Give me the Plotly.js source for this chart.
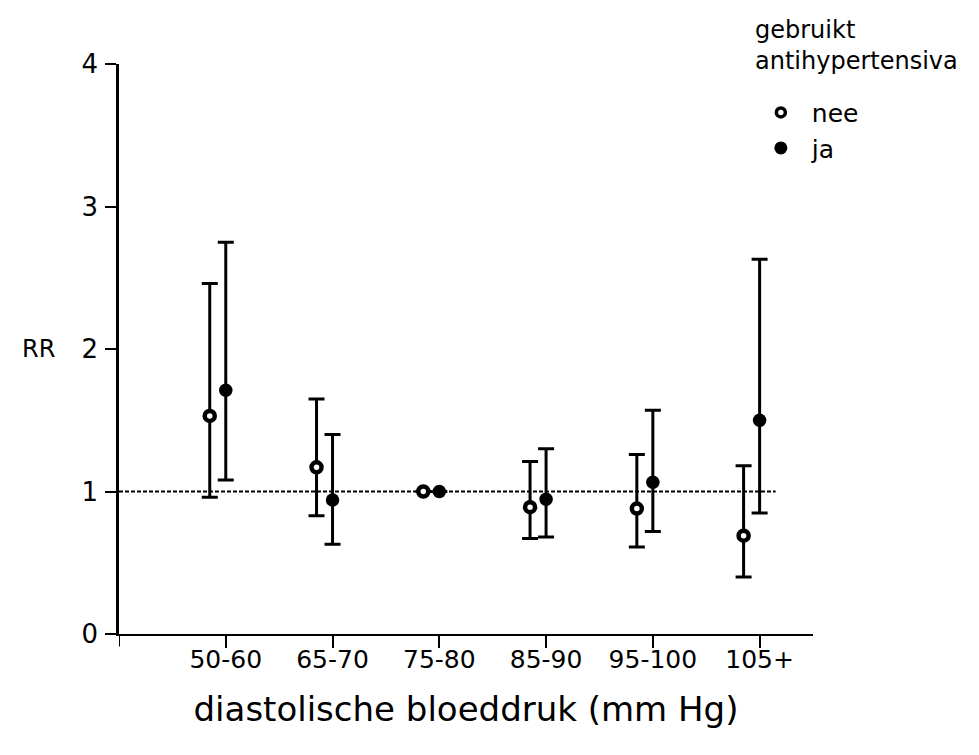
<!DOCTYPE html>
<html>
<head>
<meta charset="utf-8">
<script src="https://cdn.plot.ly/plotly-3.0.1.min.js"></script>
<style>html,body{margin:0;padding:0;background:#fff}#chart{width:979px;height:755px}</style>
</head>
<body>
<div id="chart"></div>
<script>
const categories = ["50-60", "65-70", "75-80", "85-90", "95-100", "105+"];
const neeRR    = [1.53, 1.17, 1.00, 0.89, 0.88, 0.69];
const neeUpper = [2.46, 1.65, 1.00, 1.21, 1.26, 1.18];
const neeLower = [0.96, 0.83, 1.00, 0.67, 0.61, 0.40];
const jaRR     = [1.71, 0.94, 1.00, 0.945, 1.065, 1.50];
const jaUpper  = [2.75, 1.40, 1.00, 1.30, 1.57, 2.63];
const jaLower  = [1.08, 0.63, 1.00, 0.68, 0.72, 0.85];
const legendTitle = "gebruikt<br>antihypertensiva";
const xTitle = "diastolische bloeddruk (mm Hg)";
const yTitle = "RR";
const yTicks = [0, 1, 2, 3, 4];

const pos = categories.map((c, i) => i + 1);
const neeX = pos.map(p => p - 0.15);
const font = "DejaVu Sans, Arial, sans-serif";

function errs(v, up, lo) {
  return {
    type: 'data', symmetric: false,
    array: up.map((u, i) => u - v[i]),
    arrayminus: lo.map((l, i) => v[i] - l),
    color: '#000', thickness: 3, width: 8
  };
}

const traces = [
  {x: neeX, y: neeRR, type: 'scatter', mode: 'markers', name: 'nee', showlegend: false,
   error_y: errs(neeRR, neeUpper, neeLower),
   marker: {symbol: 'circle', size: 10, color: '#fff', line: {color: '#000', width: 4.5}}},
  {x: pos, y: jaRR, type: 'scatter', mode: 'markers', name: 'ja', showlegend: false,
   error_y: errs(jaRR, jaUpper, jaLower),
   marker: {symbol: 'circle', size: 13.5, color: '#000'}},
  {x: [null], y: [null], type: 'scatter', mode: 'markers', name: 'nee',
   marker: {symbol: 'circle', size: 9, color: '#fff', line: {color: '#000', width: 3.5}}},
  {x: [null], y: [null], type: 'scatter', mode: 'markers', name: 'ja',
   marker: {symbol: 'circle', size: 13, color: '#000'}}
];

const layout = {
  width: 979, height: 755,
  margin: {l: 119, r: 166, t: 64, b: 121, autoexpand: false},
  paper_bgcolor: '#fff', plot_bgcolor: '#fff',
  font: {family: font, size: 24, color: '#000'},
  showlegend: true,
  legend: {
    x: 0.909, xanchor: 'left', y: 0.955, yanchor: 'top',
    font: {size: 25}, tracegroupgap: 0, itemwidth: 52,
    bgcolor: 'rgba(0,0,0,0)', borderwidth: 0
  },
  xaxis: {
    range: [0, 6.5], showgrid: false, zeroline: false,
    showline: true, linecolor: '#000', linewidth: 2,
    tickvals: pos, ticktext: categories,
    ticks: 'outside', ticklen: 12, tickwidth: 2, tickcolor: '#000',
    tickfont: {size: 25}, ticklabelstandoff: -10,
    title: {text: xTitle, font: {size: 34}, standoff: 24}
  },
  yaxis: {
    range: [0, 4], showgrid: false, zeroline: false,
    showline: true, linecolor: '#000', linewidth: 2.5,
    tickvals: yTicks,
    ticks: 'outside', ticklen: 11, tickwidth: 1.5, tickcolor: '#000',
    tickfont: {size: 26}, ticklabelstandoff: 2
  },
  shapes: [
    {type: 'line', xref: 'x', yref: 'y', x0: 0, x1: 6.15, y0: 1, y1: 1,
     line: {color: '#000', width: 2, dash: '4px,2px'}, layer: 'below'},
    {type: 'line', xref: 'x', yref: 'paper', x0: 0, x1: 0, y0: 0, y1: -0.022,
     line: {color: '#000', width: 2}}
  ],
  annotations: [
    {text: yTitle, xref: 'paper', yref: 'y', x: -0.1167, y: 2, xanchor: 'center', yanchor: 'middle',
     showarrow: false, font: {size: 24}},
    {text: legendTitle, xref: 'paper', yref: 'paper', x: 0.9135, y: 1.088, xanchor: 'left', yanchor: 'top',
     align: 'left', showarrow: false, font: {size: 24}}
  ]
};

Plotly.newPlot('chart', traces, layout, {displayModeBar: false});
</script>
</body>
</html>
